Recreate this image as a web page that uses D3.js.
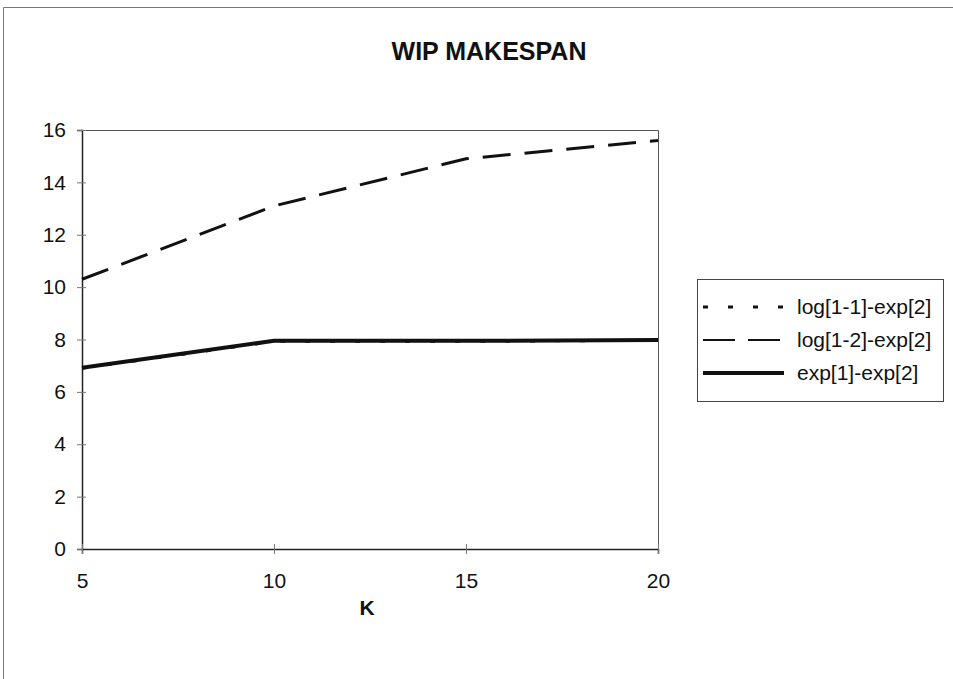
<!DOCTYPE html>
<html>
<head>
<meta charset="utf-8">
<script src="https://cdn.jsdelivr.net/npm/d3@7"></script>
<style>
  body { margin: 0; background: #fff; }
  svg { display: block; font-family: "Liberation Sans", Arial, sans-serif; }
</style>
</head>
<body>
<svg width="953" height="679"></svg>
<script>
// Chart data
const kValues = [5, 10, 15, 20];
const seriesNames = ["log[1-1]-exp[2]", "log[1-2]-exp[2]", "exp[1]-exp[2]"];
const log11Values = [6.9, 7.93, 7.93, 7.97];
const log12Values = [10.3, 13.1, 14.9, 15.6];
const exp1Values = [6.92, 7.95, 7.95, 7.98];
const yTicks = [0, 2, 4, 6, 8, 10, 12, 14, 16];
const xTicks = [5, 10, 15, 20];

const svg = d3.select("svg");

// Outer frame
svg.append("path")
  .attr("d", "M3.5,679 L3.5,7.5 L953,7.5")
  .attr("fill", "none")
  .attr("stroke", "#777")
  .attr("stroke-width", 1);

const plotLeft = 82, plotRight = 658, plotTop = 130, plotBottom = 549;

const x = d3.scaleLinear().domain([5, 20]).range([plotLeft, plotRight]);
const y = d3.scaleLinear().domain([0, 16]).range([plotBottom, plotTop]);

// Plot area border (top/right)
svg.append("path")
  .attr("d", `M${plotLeft},${plotTop + 0.5} L${plotRight + 0.5},${plotTop + 0.5} L${plotRight + 0.5},${plotBottom}`)
  .attr("fill", "none")
  .attr("stroke", "#555")
  .attr("stroke-width", 1);

// Title
svg.append("text")
  .attr("x", 489)
  .attr("y", 60)
  .attr("text-anchor", "middle")
  .attr("font-size", 25)
  .attr("font-weight", "bold")
  .attr("fill", "#111")
  .text("WIP MAKESPAN");

// Y axis
const yAxis = svg.append("g")
  .attr("transform", `translate(${plotLeft},0)`)
  .call(d3.axisLeft(y).tickValues(yTicks).tickSize(5).tickPadding(11));
yAxis.select(".domain").attr("stroke", "#222").attr("stroke-width", 1.5);
yAxis.selectAll(".tick line").attr("stroke", "#777").attr("x2", -5).attr("x1", 4);
yAxis.selectAll(".tick text").attr("font-size", 21).attr("fill", "#111");

// X axis
const xAxis = svg.append("g")
  .attr("transform", `translate(0,${plotBottom})`)
  .call(d3.axisBottom(x).tickValues(xTicks).tickSize(5).tickPadding(19));
xAxis.select(".domain").attr("stroke", "#222").attr("stroke-width", 1.5);
xAxis.selectAll(".tick line").attr("stroke", "#777").attr("y1", -5).attr("y2", 5);
xAxis.selectAll(".tick text").attr("font-size", 21).attr("fill", "#111");

// X axis label
svg.append("text")
  .attr("x", 367)
  .attr("y", 615)
  .attr("text-anchor", "middle")
  .attr("font-size", 21)
  .attr("font-weight", "bold")
  .attr("fill", "#111")
  .text("K");

const line = d3.line()
  .x((d, i) => x(kValues[i]))
  .y(d => y(d));

const styles = [
  { dash: "5,20", width: 3 },
  { dash: "28,14", width: 3 },
  { dash: null, width: 4 }
];
const seriesData = [log11Values, log12Values, exp1Values];

seriesData.forEach((vals, i) => {
  svg.append("path")
    .datum(vals)
    .attr("d", line)
    .attr("fill", "none")
    .attr("stroke", "#111")
    .attr("stroke-width", styles[i].width)
    .attr("stroke-dasharray", styles[i].dash);
});

// Legend
const lg = svg.append("g").attr("transform", "translate(697,279)");
lg.append("rect")
  .attr("x", 0.5).attr("y", 0.5)
  .attr("width", 246).attr("height", 122)
  .attr("fill", "#fff")
  .attr("stroke", "#444");

const legendDash = ["5,20", "32,13", null];
seriesNames.forEach((name, i) => {
  const cy = 28 + i * 33;
  lg.append("line")
    .attr("x1", 6).attr("x2", 87)
    .attr("y1", cy).attr("y2", cy)
    .attr("stroke", "#111")
    .attr("stroke-width", i === 1 ? 2 : styles[i].width)
    .attr("stroke-dasharray", legendDash[i]);
  lg.append("text")
    .attr("x", 100)
    .attr("y", cy + 7)
    .attr("font-size", 21)
    .attr("fill", "#111")
    .text(name);
});
</script>
</body>
</html>
